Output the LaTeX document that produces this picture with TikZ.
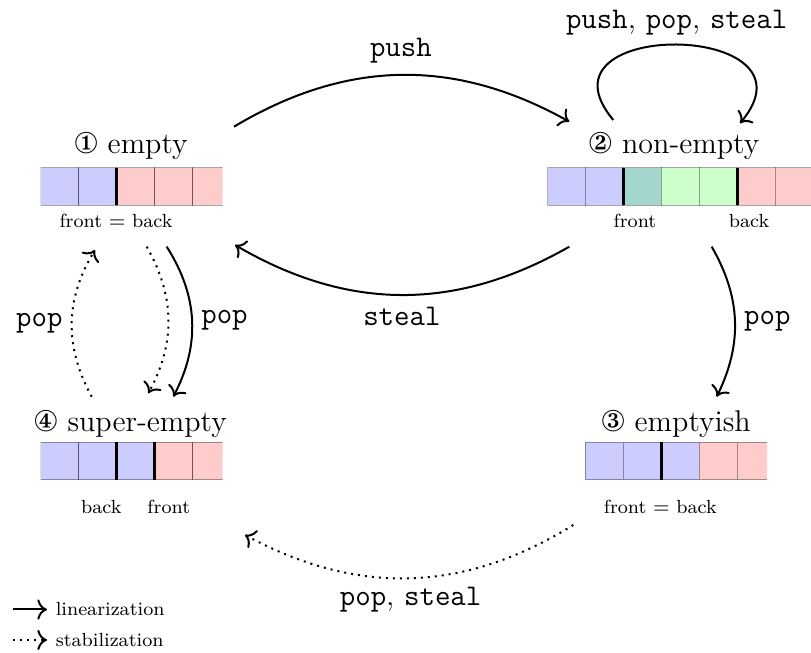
\documentclass[tikz,border=0pt]{standalone}
\usepackage{pifont}
\usetikzlibrary{positioning, arrows.meta}
\definecolor{myblue}{rgb}{0.8,0.8,1}
\definecolor{myred}{rgb}{1,0.8,0.8}
\definecolor{mygreen}{rgb}{0.8,1,0.8}
\definecolor{myteal}{rgb}{0.64,0.84,0.8}
\tikzset{
    cell/.style={
           draw=black, draw opacity=0.35,
           line width=0.4pt,
           },
    ptr/.style={black, very thick},
    title/.style={anchor=base, font=\large},
    tag/.style={anchor=base, font=\fontsize{7.6}{9}\selectfont},
    lab/.style={font=\large},
    lin/.style={-{To[scale=1.15]}, thick},
    stab/.style={-{To[scale=1.15]}, thick, dotted},
}
\newcommand{\op}[1]{\texttt{#1}}
% \queue{x}{y}{length}{colours}
\newcommand{\queue}[4]{%
  \begin{scope}
    \clip (#1,#2-0.5) rectangle ++(#3,4.8);
    \foreach \col [count=\i from 0] in {#4}
      \filldraw[cell, fill=\col] (#1+3.8*\i,#2) rectangle ++(3.8,3.78);
  \end{scope}}

\begin{document}
\begin{tikzpicture}[x=4pt, y=4pt]
      \useasboundingbox (0,0) rectangle (81.1,65.3);
      % states
      \node[title] (empty)      at (13.1, 49.95) {\ding{172} empty};
      \node[title] (nonempty)   at (67.4, 49.9)  {\ding{173} non-empty};
      \node[title] (emptyish)   at (67.6, 22.1)  {\ding{174} emptyish};
      \node[title] (superempty) at (13.05, 22.1) {\ding{175} super-empty};
      % queues
      \queue{4.07}{44.75}{18.2}{myblue,myblue,myred,myred,myred}
      \queue{54.73}{44.75}{26.4}{myblue,myblue,myteal,mygreen,mygreen,myred,myred}
      \queue{58.5}{17.3}{18.2}{myblue,myblue,myblue,myred,myred}
      \queue{4.07}{17.3}{18.2}{myblue,myblue,myblue,myred,myred}
      \draw[ptr] (11.67,44.75) -- ++(0,3.78);
      \draw[ptr] (62.33,44.75) -- ++(0,3.78);
      \draw[ptr] (73.73,44.75) -- ++(0,3.78);
      \draw[ptr] (66.1,17.3)   -- ++(0,3.78);
      \draw[ptr] (11.67,17.3)  -- ++(0,3.78);
      \draw[ptr] (15.47,17.3)  -- ++(0,3.78);
      \node[tag] (eqE)    at (11.6, 42.5)  {front $=$ back};
      \node[tag] (frontN) at (63.5, 42.5)  {front};
      \node[tag] (backN)  at (74.9, 42.5)  {back};
      \node[tag] (backS)  at (10.13, 13.9) {back};
      \node[tag] (frontS) at (16.88, 13.9) {front};
      \node[tag] (eqM)    at (66.03, 13.9) {front $=$ back};
      % ends of the transitions
      \coordinate (E1) at (23.4, 52.63);
      \coordinate (E2) at (23.5, 40.8);
      \coordinate (E3) at (16.67, 40.63);
      \coordinate (E4) at (14.67, 40.63);
      \coordinate (E5) at (9.5, 40.3);
      \coordinate (N1) at (56.93, 53.13);
      \coordinate (N2) at (56.93, 40.63);
      \coordinate (N3) at (61.33, 53.3);
      \coordinate (N4) at (74.0, 52.97);
      \coordinate (N5) at (71.17, 40.63);
      \coordinate (M1) at (71.67, 25.63);
      \coordinate (M2) at (57.33, 12.8);
      \coordinate (S1) at (17.33, 25.63);
      \coordinate (S2) at (14.83, 25.97);
      \coordinate (S3) at (9.17, 25.63);
      \coordinate (S4) at (24.5, 11.8);
      % transitions
      \draw[lin]  (E1) to[bend left=30] node[lab, above=1pt] {\op{push}} (N1);
      \draw[lin]  (N2) to[bend left=30] node[lab, below=1pt] {\op{steal}} (E2);
      \draw[lin]  (N3) to[out=130, in=50, looseness=2.7] node[lab, above] {\op{push}, \op{pop}, \op{steal}} (N4);
      \draw[lin]  (N5) to[bend left=28] node[lab, right] {\op{pop}} (M1);
      \draw[lin]  (E3) to[bend left=30] node[lab, right] {\op{pop}} (S1);
      \draw[stab] (E4) to[bend left=29] (S2);
      \draw[stab] (S3) to[bend left=30] node[lab, left] {\op{pop}} (E5);
      \draw[stab] (M2) to[bend left=30] node[lab, below] {\op{pop}, \op{steal}} (S4);
      % legend
      \node[tag, anchor=base west] (lintext)  at (4.7, 3.7)  {linearization};
      \node[tag, anchor=base west] (stabtext) at (4.7, 0.65) {stabilization};
      \coordinate[left=13.6pt of lintext]  (linstart);
      \coordinate[left=13.6pt of stabtext] (stabstart);
      \draw[lin]  (linstart)  -- (lintext);
      \draw[stab] (stabstart) -- (stabtext);
\end{tikzpicture}
\end{document}
